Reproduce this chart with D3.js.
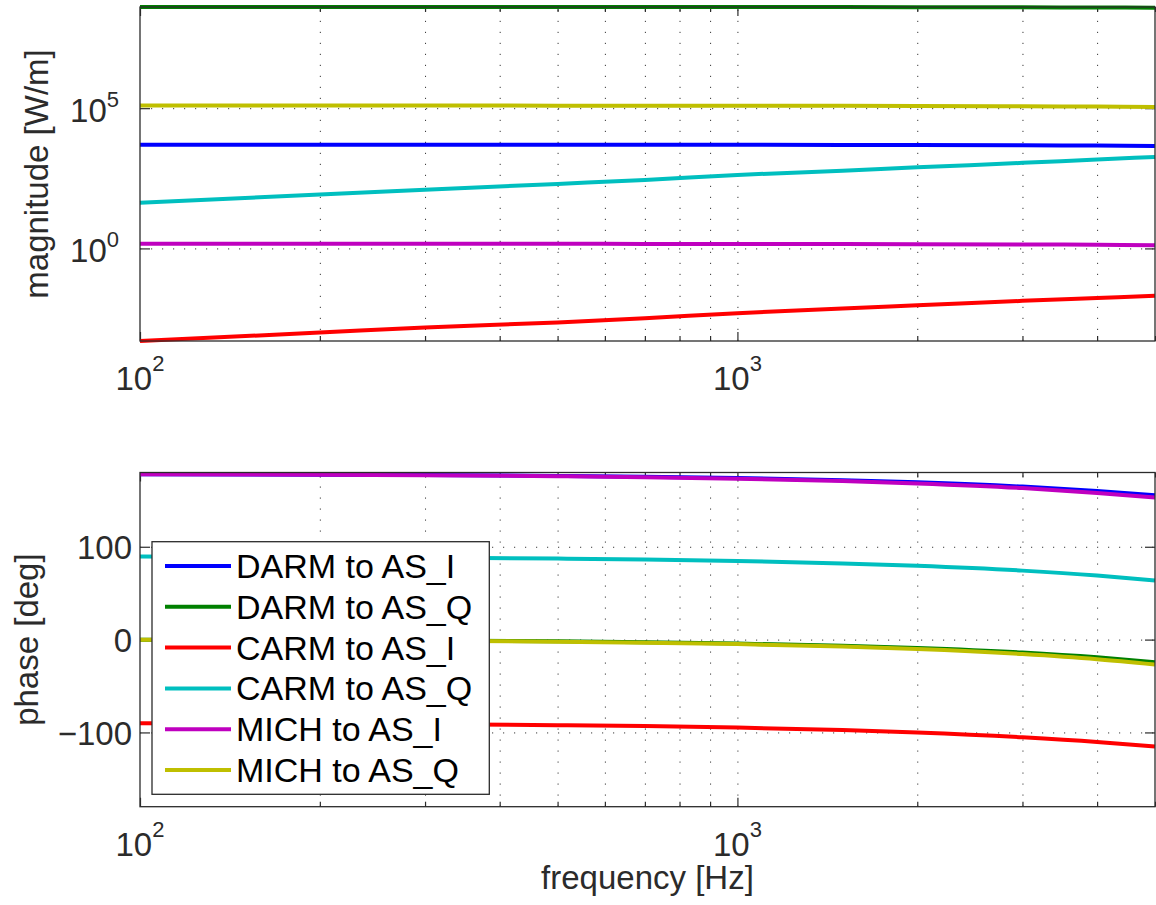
<!DOCTYPE html>
<html><head><meta charset="utf-8">
<script src="https://cdn.jsdelivr.net/npm/d3@7"></script>
<style>body{margin:0;background:#fff;} svg{display:block;}</style>
</head><body>
<svg id="c" width="1156" height="905"></svg>
<script>
// ---------------- data ----------------
const freqs = [100, 200, 300, 500, 700, 1000, 1500, 2000, 3000, 4000, 5000];
const seriesNames = ["DARM to AS_I", "DARM to AS_Q", "CARM to AS_I", "CARM to AS_Q", "MICH to AS_I", "MICH to AS_Q"];
const seriesColors = ["#0000ff", "#008000", "#ff0000", "#00bfbf", "#bf00bf", "#bfbf00"];

// magnitude [W/m]
const magDARM_I = [5.0e3, 5.0e3, 5.0e3, 4.99e3, 4.98e3, 4.96e3, 4.90e3, 4.85e3, 4.74e3, 4.63e3, 4.52e3];
const magDARM_Q = [4.05e8, 4.05e8, 4.05e8, 4.04e8, 4.04e8, 4.03e8, 4.01e8, 3.99e8, 3.94e8, 3.89e8, 3.83e8];
const magCARM_I = [5.0e-4, 1.0e-3, 1.51e-3, 2.29e-3, 3.24e-3, 4.9e-3, 7.24e-3, 9.33e-3, 1.35e-2, 1.70e-2, 2.04e-2];
const magCARM_Q = [42.7, 83.2, 123, 200, 275, 417, 589, 776, 1122, 1479, 1820];
const magMICH_I = [1.46, 1.46, 1.46, 1.455, 1.45, 1.445, 1.43, 1.41, 1.38, 1.35, 1.31];
const magMICH_Q = [1.24e5, 1.24e5, 1.24e5, 1.23e5, 1.23e5, 1.22e5, 1.21e5, 1.19e5, 1.16e5, 1.14e5, 1.11e5];

// phase [deg]
const phDARM_I = [178.2, 177.7, 177.3, 176.3, 175.4, 174.0, 171.7, 169.4, 164.8, 160.2, 155.6];
const phDARM_Q = [-0.1, -0.6, -1.0, -1.9, -2.9, -4.3, -6.6, -9.0, -13.9, -19.1, -24.4];
const phCARM_I = [-90.1, -90.6, -91.1, -92.2, -93.2, -94.8, -97.4, -100.0, -105.2, -110.2, -115.2];
const phCARM_Q = [89.4, 88.9, 88.4, 87.3, 86.3, 84.7, 82.1, 79.5, 74.3, 69.0, 63.6];
const phMICH_I = [178.1, 177.6, 177.1, 176.0, 175.0, 173.4, 170.8, 168.2, 163.2, 158.0, 153.0];
const phMICH_Q = [-0.2, -0.7, -1.2, -2.3, -3.3, -4.8, -7.5, -10.1, -15.6, -21.1, -26.8];

// ticks
const xDomain = [100, 5000];
const xMajorTicks = [100, 1000];
const xMajorExps = ["2", "3"];
const magTicks = [1, 1e5];
const magTickExps = ["0", "5"];
const phaseDomain = [-180, 180];
const phaseTicks = [-100, 0, 100];
const phaseTickLabels = ["\u2212100", "0", "100"];

// ---------------- layout ----------------
const FONT = "'Liberation Sans', Arial, Helvetica, sans-serif";
const AXC = "#2b2b2b";
const svg = d3.select("#c");
const L = 140, R = 1155;
const top1 = 7, bot1 = 341;
const top2 = 472.5, bot2 = 806.7;

const x = d3.scaleLog().domain(xDomain).range([L, R]);
const xAll = x.ticks();  // 100..900, 1000..5000
const xMinor = xAll.filter(v => !xMajorTicks.includes(v));
const xGrid = xAll.filter(v => v > xDomain[0] && v < xDomain[1]);

const magSeries = [magDARM_I, magDARM_Q, magCARM_I, magCARM_Q, magMICH_I, magMICH_Q];
const phSeries = [phDARM_I, phDARM_Q, phCARM_I, phCARM_Q, phMICH_I, phMICH_Q];
const magExt = d3.extent(magSeries.flat());
const yMag = d3.scaleLog().domain(magExt).range([bot1, top1]);
const yPh = d3.scaleLinear().domain(phaseDomain).range([bot2, top2]);

function drawPanel(y, y0, y1, yTicks, labelFn, labelX, labelDy, series, ylabel, ylabelX) {
  const g = svg.append("g");
  const h = y1 - y0, w = R - L;
  // grid (dotted)
  const grid = g.append("g").attr("class", "grid");
  grid.append("g").attr("transform", `translate(0,${y1})`)
    .call(d3.axisBottom(x).tickValues(xGrid).tickSize(-h).tickFormat(""));
  grid.append("g").attr("transform", `translate(${L},0)`)
    .call(d3.axisLeft(y).tickValues(yTicks).tickSize(-w).tickFormat(""));
  grid.selectAll(".domain").remove();
  grid.selectAll("line").attr("stroke", "#3a3a3a").attr("stroke-width", 1)
    .attr("stroke-dasharray", "1.2 9.8");

  // ticks (inward, all four sides)
  const tk = g.append("g");
  tk.append("g").attr("transform", `translate(0,${y1})`).call(d3.axisBottom(x).tickValues(xMinor).tickSize(-5).tickFormat(""));
  tk.append("g").attr("transform", `translate(0,${y0})`).call(d3.axisTop(x).tickValues(xMinor).tickSize(-5).tickFormat(""));
  tk.append("g").attr("transform", `translate(0,${y1})`).call(d3.axisBottom(x).tickValues(xMajorTicks).tickSize(-9).tickFormat(""));
  tk.append("g").attr("transform", `translate(0,${y0})`).call(d3.axisTop(x).tickValues(xMajorTicks).tickSize(-9).tickFormat(""));
  tk.append("g").attr("transform", `translate(${L},0)`).call(d3.axisLeft(y).tickValues(yTicks).tickSize(-10).tickFormat(""));
  tk.append("g").attr("transform", `translate(${R},0)`).call(d3.axisRight(y).tickValues(yTicks).tickSize(-10).tickFormat(""));
  tk.selectAll(".domain").remove();
  tk.selectAll("line").attr("stroke", AXC).attr("stroke-width", 1.2);

  // data lines
  const line = d3.line().x(d => x(d[0])).y(d => y(d[1])).curve(d3.curveMonotoneX);
  series.forEach((vals, i) => {
    g.append("path").datum(freqs.map((f, k) => [f, vals[k]]))
      .attr("d", line).attr("fill", "none").attr("stroke", seriesColors[i])
      .attr("stroke-width", 4).attr("stroke-linejoin", "round");
  });

  // frame
  g.append("rect").attr("x", L).attr("y", y0).attr("width", w).attr("height", h)
    .attr("fill", "none").attr("stroke", AXC).attr("stroke-width", 1.3);

  // x tick labels
  xMajorTicks.forEach((v, i) => {
    const t = g.append("text").attr("x", x(v)).attr("y", y1 + 49)
      .attr("text-anchor", "middle").attr("font-family", FONT).attr("font-size", 33).attr("fill", AXC);
    t.append("tspan").text("10");
    t.append("tspan").attr("dy", -19).attr("font-size", 22).text(xMajorExps[i]);
  });
  // y tick labels
  yTicks.forEach((v, i) => {
    const t = g.append("text").attr("x", labelX).attr("y", y(v) + labelDy)
      .attr("text-anchor", "end").attr("font-family", FONT).attr("font-size", 33).attr("fill", AXC);
    labelFn(t, i);
  });
  // y label
  g.append("text").attr("transform", `translate(${ylabelX},${(y0 + y1) / 2}) rotate(-90)`)
    .attr("text-anchor", "middle").attr("font-family", FONT).attr("font-size", 33).attr("fill", AXC)
    .text(ylabel);
  return g;
}

drawPanel(yMag, top1, bot1, magTicks, (t, i) => {
  t.append("tspan").text("10");
  t.append("tspan").attr("dy", -15).attr("font-size", 22).text(magTickExps[i]);
}, 119, 13.5, magSeries, "magnitude [W/m]", 48);

drawPanel(yPh, top2, bot2, phaseTicks, (t, i) => {
  t.text(phaseTickLabels[i]);
}, 132, 12.5, phSeries, "phase [deg]", 38);

// x label
svg.append("text").attr("x", (L + R) / 2).attr("y", 889).attr("text-anchor", "middle")
  .attr("font-family", FONT).attr("font-size", 33).attr("fill", AXC).text("frequency [Hz]");

// legend
const lg = svg.append("g");
lg.append("rect").attr("x", 152).attr("y", 541.7).attr("width", 337.3).attr("height", 252.6)
  .attr("fill", "#fff").attr("stroke", AXC).attr("stroke-width", 1.3);
const ly = d3.scalePoint().domain(seriesNames).range([566, 770]);
seriesNames.forEach((n, i) => {
  lg.append("line").attr("x1", 165).attr("x2", 231).attr("y1", ly(n)).attr("y2", ly(n))
    .attr("stroke", seriesColors[i]).attr("stroke-width", 4);
  lg.append("text").attr("x", 236).attr("y", ly(n) + 12).attr("font-family", FONT)
    .attr("font-size", 34).attr("fill", "#000").text(n);
});
</script>
</body></html>
